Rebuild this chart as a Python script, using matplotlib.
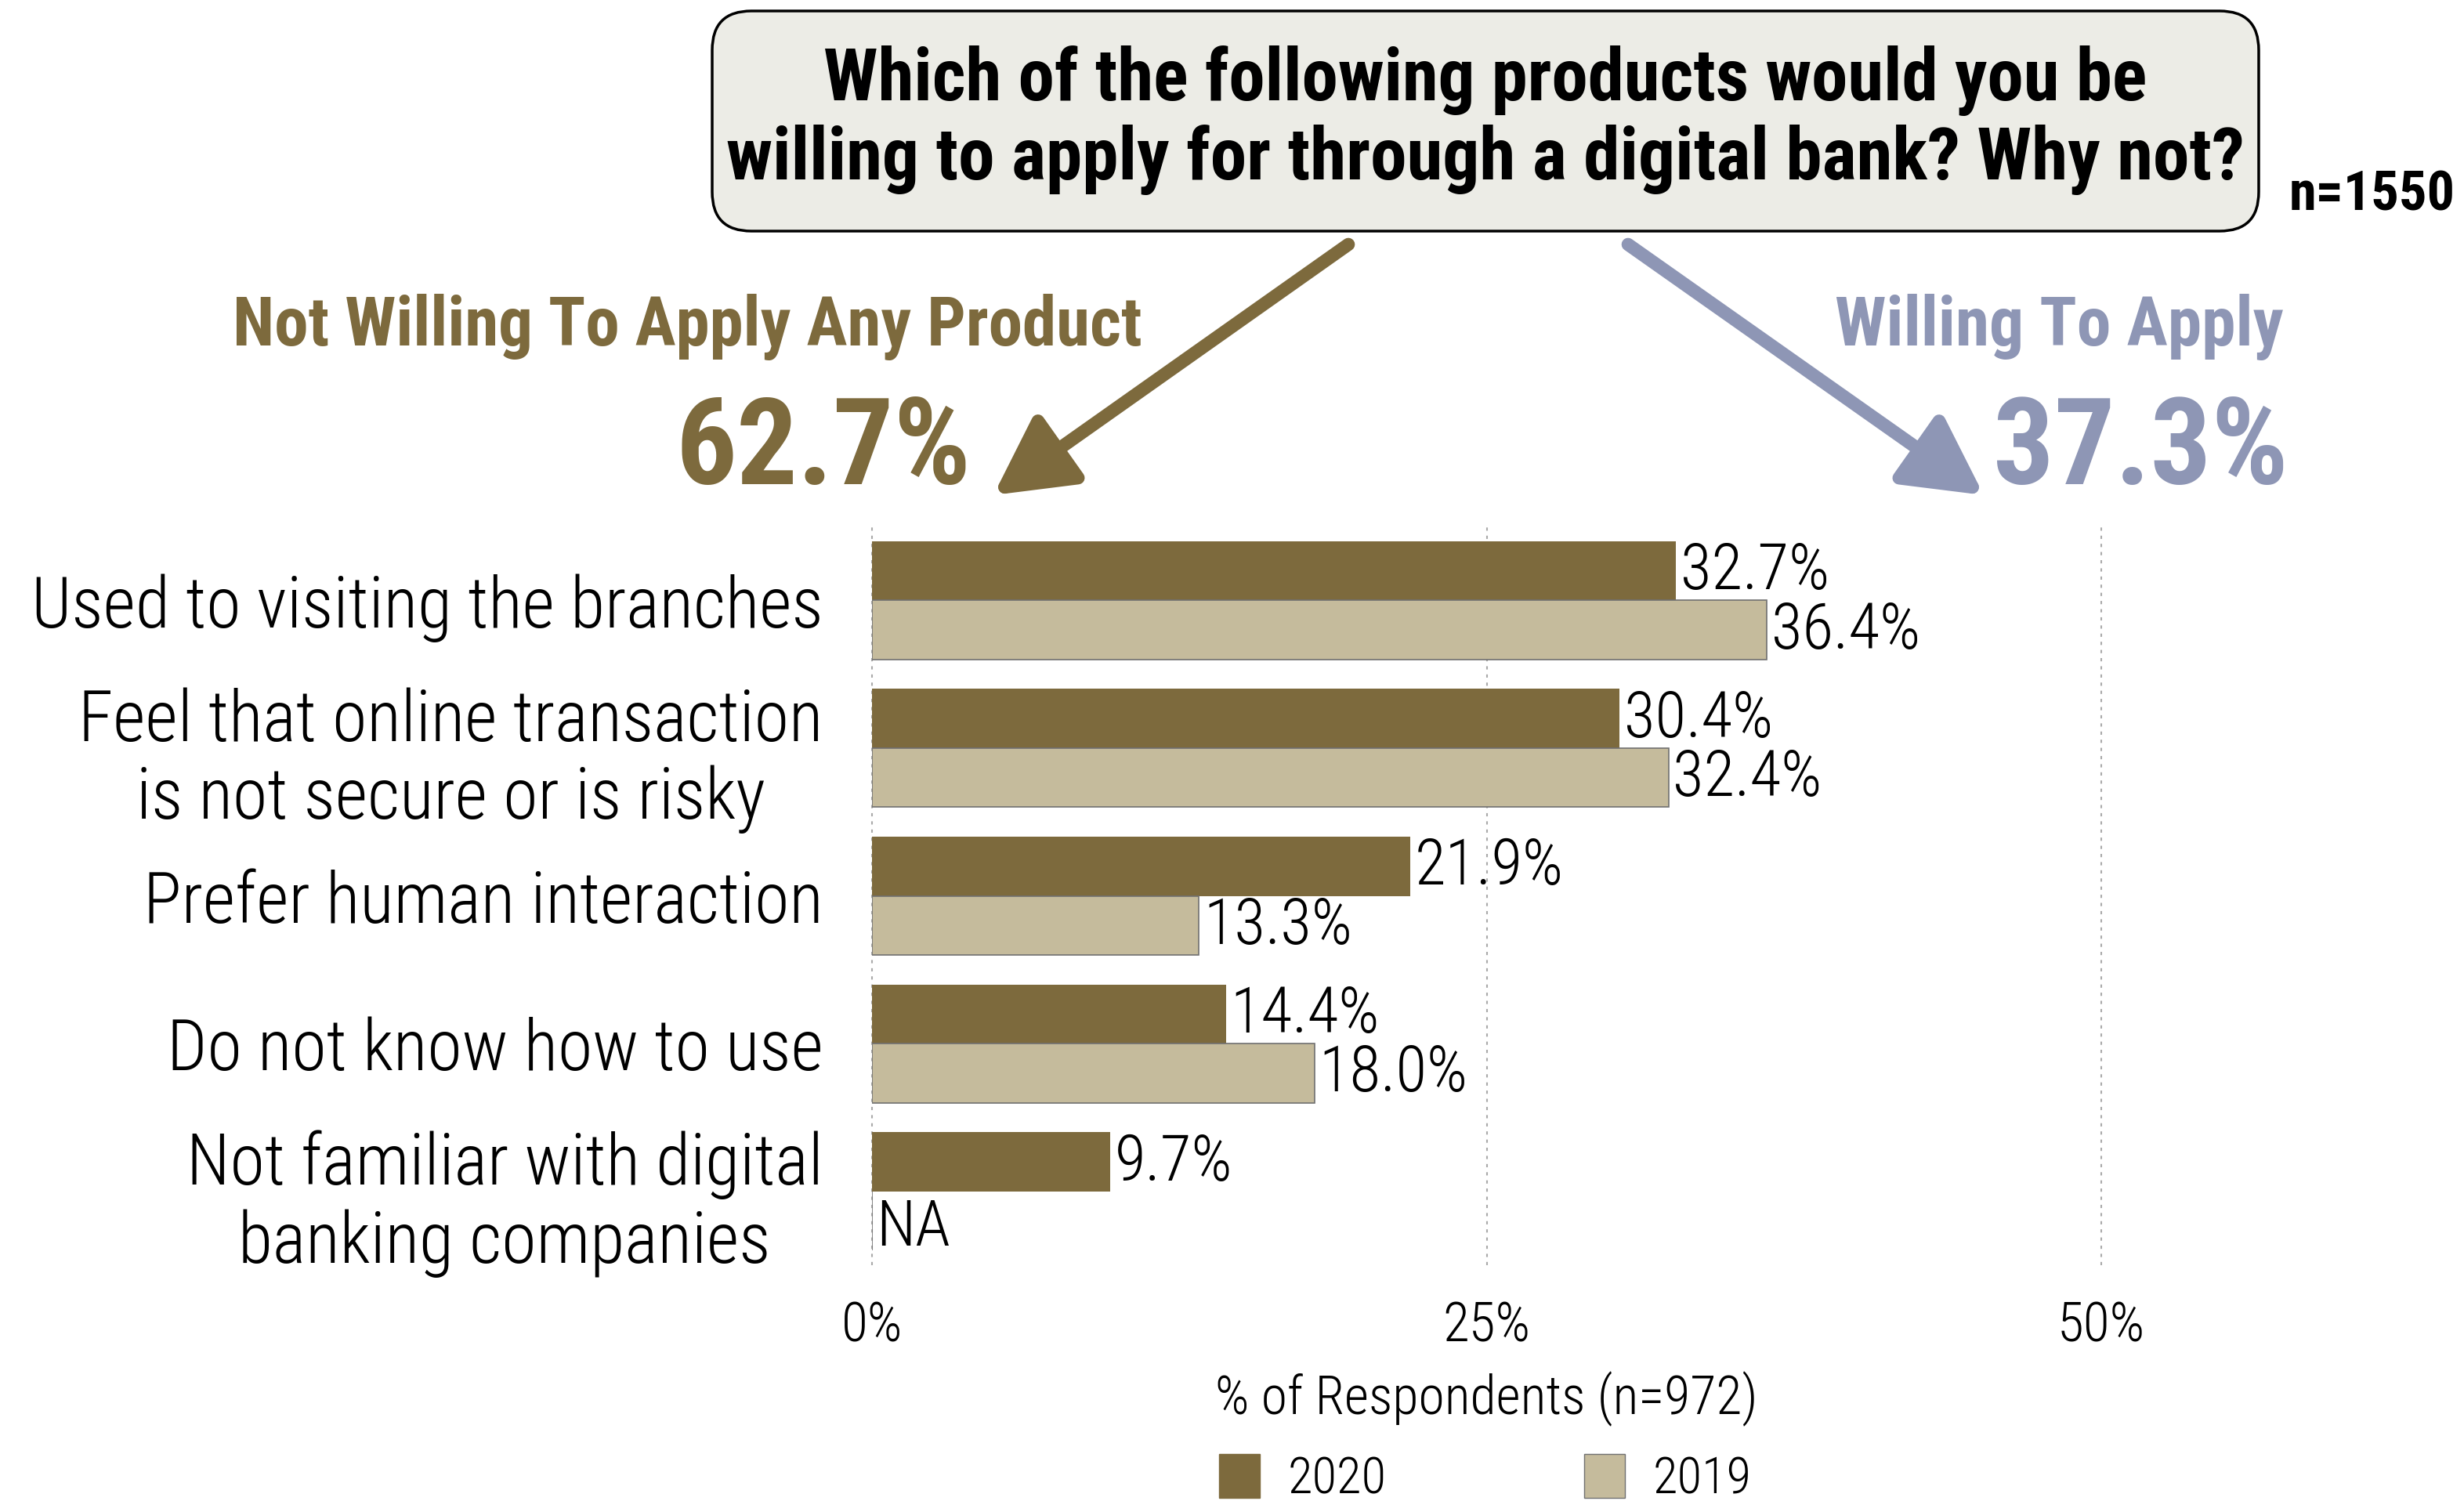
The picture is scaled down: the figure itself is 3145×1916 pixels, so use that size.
import numpy as np
import matplotlib
matplotlib.use('Agg')
from matplotlib import pyplot as plt
from matplotlib.patches import FancyBboxPatch, FancyArrowPatch, Patch

plt.rcParams['font.family'] = ['Roboto Condensed', 'DejaVu Sans']
plt.rcParams['font.weight'] = 'light'
plt.rcParams['axes.labelweight'] = 'light'

categories = ['Used to visiting the branches',
              'Feel that online transaction\nis not secure or is risky',
              'Prefer human interaction',
              'Do not know how to use',
              'Not familiar with digital\nbanking companies']
vals_2020 = [32.7, 30.4, 21.9, 14.4, 9.7]
vals_2019 = [36.4, 32.4, 13.3, 18.0, None]
years = ['2020', '2019']
xticks = [0, 25, 50]

question = ['Which of the following products would you be',
            'willing to apply for through a digital bank? Why not?']
n_total = 'n=1550'
not_willing_pct = 62.7
willing_pct = 37.3

DARK = '#7D6A3D'
LIGHT = '#C5BB9C'
BLUE = '#8E96B5'

W, H = 3145, 1916
fig = plt.figure(figsize=(W / 100, H / 100), dpi=100)
renderer = fig.canvas.get_renderer()


def fit(t, width):
    # scale the font so the text spans the given pixel width
    for _ in range(3):
        bb = t.get_window_extent(renderer)
        t.set_fontsize(t.get_fontsize() * width / bb.width)
    return t.get_fontsize()


def size_for(s, width, **kw):
    t = fig.text(0, 0, s, fontsize=40, **kw)
    size = fit(t, width)
    t.remove()
    return size


# overlay in pixel units for the header graphics
ov = fig.add_axes([0, 0, 1, 1])
ov.set_xlim(0, W)
ov.set_ylim(H, 0)
ov.axis('off')

box = FancyBboxPatch((909 + 50, 14 + 50), 1974 - 100, 281 - 100,
                     boxstyle='round,pad=50', fc='#ECECE6', ec='black', lw=2.5)
ov.add_patch(box)
t1 = ov.text(1896, 128, question[0], ha='center', va='baseline', fontweight='bold')
t2 = ov.text(1896, 229, question[1], ha='center', va='baseline', fontweight='bold')
fit(t1, 1689)
fit(t2, 1936)
fit(ov.text(2922, 268, n_total, ha='left', va='baseline', fontweight='bold'), 212)

fit(ov.text(1458, 441, 'Not Willing To Apply Any Product', ha='right', va='baseline',
            fontweight='bold', color=DARK), 1161)
fit(ov.text(1240, 618, f'{not_willing_pct:.1f}%', ha='right', va='baseline',
            fontweight='bold', color=DARK), 377)
fit(ov.text(2915, 441, 'Willing To Apply', ha='right', va='baseline',
            fontweight='bold', color=BLUE), 572)
fit(ov.text(2921, 618, f'{willing_pct:.1f}%', ha='right', va='baseline',
            fontweight='bold', color=BLUE), 377)

for (x0, y0, x1, y1, c) in [(1721, 312, 1268, 632, DARK), (2078, 312, 2532, 632, BLUE)]:
    ov.add_patch(FancyArrowPatch((x0, y0), (x1, y1),
                                 arrowstyle='-|>,head_length=1.5,head_width=0.8',
                                 mutation_scale=40, lw=12, color=c,
                                 shrinkA=0, shrinkB=0))

# font sizes for the chart texts
fs_cat = size_for(categories[0], 1011)
fs_val = size_for('32.7%', 190)
fs_tick = size_for('25%', 112)
fs_xlab = size_for('% of Respondents (n=972)', 692)
fs_leg = size_for('2020', 126)

# bar chart
ax = fig.add_axes([1113 / W, 1 - 1615 / H, (2682 - 1113) / W, (1615 - 672) / H])
y = np.arange(len(categories))
h = 0.4
ax.barh(y - h / 2, vals_2020, height=h, color=DARK, label=years[0])
v19 = [v if v is not None else 0 for v in vals_2019]
ax.barh(y + h / 2, v19, height=h, color=LIGHT, edgecolor='#707070', lw=1.2, label=years[1])

for yi, v in zip(y, vals_2020):
    ax.annotate(f'{v:.1f}%', (v, yi - h / 2), xytext=(4, -1), textcoords='offset points',
                ha='left', va='center', fontsize=fs_val)
for yi, v in zip(y, vals_2019):
    if v is None:
        ax.annotate('NA', (0, yi + h / 2), xytext=(4, -7), textcoords='offset points',
                    ha='left', va='center', fontsize=fs_val)
    else:
        ax.annotate(f'{v:.1f}%', (v, yi + h / 2), xytext=(4, -1), textcoords='offset points',
                    ha='left', va='center', fontsize=fs_val)

ax.set_xlim(0, 50)
ax.set_ylim(len(categories) - 0.5, -0.5)
for xt in xticks:
    ax.axvline(xt, color='#AAAAAA', lw=1.5, ls=(0, (2, 3)), zorder=0, clip_on=False)
ax.set_xticks(xticks)
ax.set_xticklabels([f'{t}%' for t in xticks], fontsize=fs_tick)
ax.set_yticks(y)
ax.set_yticklabels(categories, fontsize=fs_cat, linespacing=1.18)
for lab in ax.get_yticklabels():
    lab.set_multialignment('center')
ax.tick_params(axis='both', length=0)
ax.tick_params(axis='y', pad=45)
ax.tick_params(axis='x', pad=32)
for s in ax.spines.values():
    s.set_visible(False)
ax.set_xlabel('% of Respondents (n=972)', fontsize=fs_xlab, va='center', fontweight='light')
ax.xaxis.set_label_coords(0.5, (1615 - 1786) / (1615 - 672))

handles = [Patch(fc=DARK, ec=DARK), Patch(fc=LIGHT, ec='#707070')]
fig.legend(handles, years, loc='center', bbox_to_anchor=(1896 / W, 1 - 1888 / H),
           ncol=2, frameon=False, fontsize=fs_leg, handlelength=0.8, handleheight=0.95,
           handletextpad=0.55, columnspacing=3.9, borderpad=0)

fig.savefig('out.png', dpi=100)
